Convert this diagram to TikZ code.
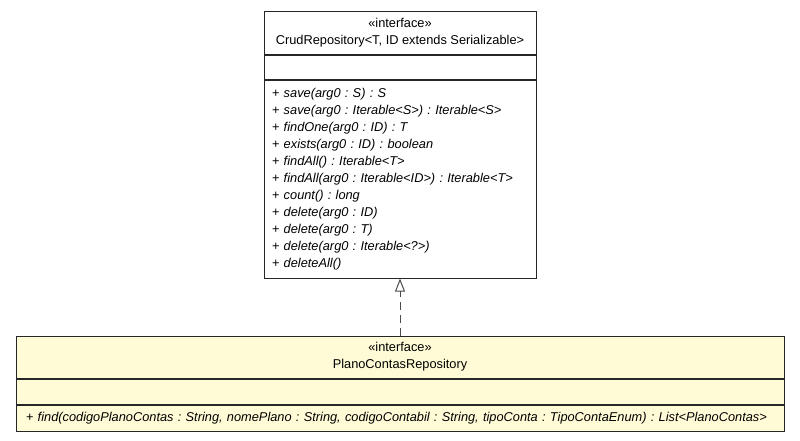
\documentclass[tikz,border=0pt]{standalone}
\usepackage{fontspec}
\setmainfont{Liberation Sans}
\usepackage{xcolor}
\usetikzlibrary{positioning,arrows.meta}
\definecolor{classfill}{HTML}{FFFBD6}
\frenchspacing

\begin{document}
\begin{tikzpicture}[x=1pt,y=-1pt]
\tikzstyle{comp}=[rectangle,draw=black!85,line width=1pt,inner sep=0pt,fill=white,font=\fontsize{12.8}{17}\selectfont]
\tikzstyle{ops}=[comp,align=left,inner xsep=8pt]
\tikzstyle{realize}=[draw=black!70,line width=1pt,dash pattern=on 8pt off 5pt,-{Triangle[open,width=10pt,length=13pt]}]
\useasboundingbox (0,0) rectangle (800,440);
% CrudRepository (interface)
\node[comp,minimum width=272pt,minimum height=43pt,align=center] (crudhead) at (400,32.5) {«interface»\\CrudRepository<T, ID extends Serializable>};
\node[comp,minimum width=272pt,minimum height=24pt,below=0pt of crudhead] (crudattr) {};
\node[ops,text width=256pt,minimum height=198pt,below=0pt of crudattr] (crudops) {%
+ \textit{save(arg0 : S) : S}\\
+ \textit{save(arg0 : Iterable<S>) : Iterable<S>}\\
+ \textit{findOne(arg0 : ID) : T}\\
+ \textit{exists(arg0 : ID) : boolean}\\
+ \textit{findAll() : Iterable<T>}\\
+ \textit{findAll(arg0 : Iterable<ID>) : Iterable<T>}\\
+ \textit{count() : long}\\
+ \textit{delete(arg0 : ID)}\\
+ \textit{delete(arg0 : T)}\\
+ \textit{delete(arg0 : Iterable<?>)}\\
+ \textit{deleteAll()}};
% PlanoContasRepository
\node[comp,fill=classfill,minimum width=768pt,minimum height=42pt,align=center] (planohead) at (400,357) {«interface»\\PlanoContasRepository};
\node[comp,fill=classfill,minimum width=768pt,minimum height=25pt,below=0pt of planohead] (planoattr) {};
\node[ops,fill=classfill,inner xsep=10pt,text width=748pt,minimum height=26pt,below=0pt of planoattr] (planoops) {%
+ \textit{find(codigoPlanoContas : String, nomePlano : String, codigoContabil : String, tipoConta : TipoContaEnum) : List<PlanoContas>}};
% realization (dashed, open triangle)
\draw[realize] (planohead.north) -- (crudops.south);
\end{tikzpicture}
\end{document}
